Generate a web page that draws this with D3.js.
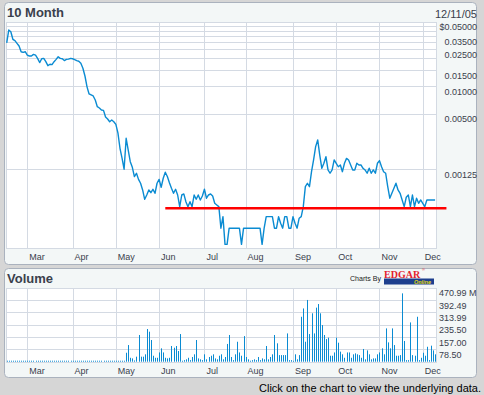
<!DOCTYPE html>
<html>
<head>
<meta charset="utf-8">
<script src="https://cdn.jsdelivr.net/npm/d3@7"></script>
<style>
  html, body { margin: 0; padding: 0; background: #d6d6d6; }
  svg { display: block; font-family: "Liberation Sans", Arial, sans-serif; }
</style>
</head>
<body>
<svg id="chart" width="484" height="395"></svg>
<script>
// trading-day index 0 = Feb 14 2005, last = Dec 9 2005
const monthLabels = ['Mar', 'Apr', 'May', 'Jun', 'Jul', 'Aug', 'Sep', 'Oct', 'Nov', 'Dec']
const monthStartDay = [10, 32, 53, 74, 96, 116, 139, 160, 181, 202]

const priceGrid = [0.05, 0.045, 0.04, 0.035, 0.03, 0.025, 0.02, 0.015, 0.01, 0.005, 0.00125]
const priceTicks = [0.05, 0.035, 0.025, 0.015, 0.01, 0.005, 0.00125]
const priceTickLabels = ['$0.05000', '0.03500', '0.02500', '0.01500', '0.01000', '0.00500', '0.00125']

const volumeTicks = [78.5, 157, 235.5, 313.99, 392.49, 470.99]
const volumeTickLabels = ['78.50', '157.00', '235.50', '313.99', '392.49', '470.99 M']

// closing price per trading day ($)
const prices = [
  0.0295, 0.0406, 0.0389, 0.0322, 0.0311, 0.0291, 0.0272, 0.0236, 0.0232, 0.0236,
  0.0217, 0.0212, 0.0212, 0.0221, 0.0217, 0.0200, 0.0180, 0.0198, 0.0200, 0.0184,
  0.01665, 0.01724, 0.0171, 0.0184, 0.0195, 0.0208, 0.0200, 0.0198, 0.0189, 0.0195,
  0.0196, 0.0200, 0.0198, 0.0194, 0.0189, 0.0186, 0.0177, 0.0156, 0.01286, 0.0098,
  0.00821, 0.0080, 0.0078, 0.00706, 0.00597, 0.00578, 0.0055, 0.00545, 0.00461, 0.00439,
  0.0041, 0.00428, 0.0041, 0.00383, 0.0031, 0.00211, 0.00165, 0.00125, 0.00271, 0.00202,
  0.00151, 0.00131, 0.00104, 0.00113, 0.00097, 0.00088, 0.000744, 0.000589, 0.000656, 0.000744,
  0.000695, 0.000757, 0.000685, 0.00088, 0.00097, 0.000796, 0.000997, 0.00116, 0.00104, 0.000893,
  0.000776, 0.000685, 0.000757, 0.000656, 0.00049, 0.000656, 0.000673, 0.000555, 0.00049, 0.000555,
  0.00049, 0.000656, 0.000589, 0.000656, 0.000579, 0.00064, 0.000757, 0.000605, 0.000656, 0.000673,
  0.00064, 0.000533, 0.000511, 0.00049, 0.000286, 0.000382, 0.000191, 0.000191, 0.000286, 0.000286,
  0.000286, 0.000286, 0.000286, 0.000286, 0.000191, 0.000286, 0.000286, 0.000286, 0.000286, 0.000286,
  0.000286, 0.000286, 0.000286, 0.000286, 0.000191, 0.000286, 0.000382, 0.000382, 0.000382, 0.000382,
  0.000286, 0.000286, 0.000382, 0.000324, 0.000286, 0.000382, 0.000382, 0.000286, 0.000286, 0.000382,
  0.000324, 0.000286, 0.000367, 0.000382, 0.00049, 0.000808, 0.00088, 0.000808, 0.001175, 0.001575,
  0.0022, 0.0026, 0.00178, 0.00128, 0.00145, 0.00171, 0.001227, 0.00113, 0.001227, 0.001575,
  0.00145, 0.00133, 0.00139, 0.001175, 0.00145, 0.00164, 0.001575, 0.00139, 0.001227, 0.001227,
  0.00145, 0.00139, 0.00139, 0.00128, 0.001227, 0.00113, 0.00128, 0.00113, 0.001227, 0.00113,
  0.00145, 0.00155, 0.00133, 0.001175, 0.00113, 0.000808, 0.000605, 0.000685, 0.000776, 0.00088,
  0.000744, 0.000685, 0.000579, 0.00049, 0.00062, 0.000656, 0.00049, 0.000656, 0.00049, 0.000605,
  0.000533, 0.000579, 0.000533, 0.00049, 0.000579, 0.000579, 0.000579, 0.000579, 0.000579
]

// volume per trading day (millions of shares)
const volumes = [
  5, 5, 5, 5, 5, 5, 5, 5, 5, 5,
  5, 5, 5, 5, 5, 5, 5, 5, 5, 5,
  5, 5, 5, 5, 5, 5, 5, 5, 5, 5,
  5, 5, 5, 5, 5, 5, 5, 5, 5, 5,
  5, 5, 5, 5, 5, 5, 5, 5, 5, 5,
  5, 5, 5, 5, 5, 5, 5, 5, 57, 106,
  25, 21, 8, 32, 170, 32, 32, 47, 208, 191,
  138, 38, 25, 25, 59, 85, 59, 25, 21, 25,
  100, 89, 100, 68, 176, 6, 10, 15, 25, 10,
  30, 47, 138, 21, 15, 10, 47, 15, 30, 38,
  47, 21, 15, 38, 47, 15, 30, 113, 170, 30,
  10, 47, 127, 59, 38, 163, 30, 15, 6, 10,
  15, 10, 30, 10, 21, 15, 100, 15, 30, 47,
  170, 117, 42, 42, 42, 42, 180, 10, 10, 6,
  47, 15, 42, 286, 339, 127, 393, 176, 308, 180,
  344, 367, 308, 233, 170, 144, 153, 38, 38, 59,
  153, 121, 64, 47, 25, 59, 59, 25, 47, 53,
  47, 42, 25, 81, 15, 72, 47, 15, 21, 21,
  47, 59, 85, 47, 212, 123, 85, 212, 106, 38,
  38, 42, 435, 132, 10, 10, 250, 42, 38, 286,
  10, 25, 57, 38, 95, 10, 102, 72, 47
]

// red horizontal line drawn across the chart
const levelLine = { fromDay: 77, toDay: 213.5, price: 0.00047 }

const blue = '#0a8bd2'
const gridColor = '#d4dae3'
const textColor = '#3a404c'

const plotLeft = 6.5
const plotRight = 436.5
const priceTop = 21.7
const priceBottom = 248.3
const volTop = 287.7
const volBottom = 361.7

const svg = d3.select('#chart')

// panels
svg.append('rect')
  .attr('x', 4.5).attr('y', 2.5).attr('width', 472).attr('height', 262)
  .attr('rx', 4).attr('fill', '#f3f7f7').attr('stroke', '#aab2be')
svg.append('rect')
  .attr('x', 4.5).attr('y', 268.5).attr('width', 472).attr('height', 109)
  .attr('rx', 4).attr('fill', '#f3f7f7').attr('stroke', '#aab2be')

const x = d3.scaleLinear().domain([0, prices.length - 1]).range([6.7, 435.1])
const yPrice = d3.scaleLog().domain([0.000173, 0.05]).range([priceBottom, priceTop])
const yVol = d3.scaleLinear().domain([0, 470.99]).range([volBottom, volTop])

function drawFrame (top, bottom, yScale, gridValues) {
  svg.append('rect')
    .attr('x', plotLeft).attr('y', Math.round(top) + 0.5)
    .attr('width', plotRight - plotLeft).attr('height', Math.round(bottom) - Math.round(top))
    .attr('fill', '#fff').attr('stroke', gridColor)

  const hGrid = svg.append('g')
    .attr('transform', `translate(${plotLeft},0)`)
    .call(d3.axisLeft(yScale).tickValues(gridValues).tickSize(-(plotRight - plotLeft)).tickFormat(''))
  hGrid.select('.domain').remove()
  hGrid.selectAll('line').attr('stroke', gridColor).attr('shape-rendering', 'crispEdges')

  const vGrid = svg.append('g')
    .attr('transform', `translate(0,${bottom})`)
    .call(d3.axisBottom(x).tickValues(monthStartDay).tickSize(-(bottom - top))
      .tickFormat((d, i) => monthLabels[i]))
  vGrid.select('.domain').remove()
  vGrid.selectAll('line').attr('stroke', gridColor).attr('shape-rendering', 'crispEdges')
  vGrid.selectAll('text')
    .attr('text-anchor', 'start').attr('x', 1.5).attr('y', 12.2).attr('dy', null)
    .attr('font-size', 9).attr('font-family', '"Liberation Sans", Arial, sans-serif')
    .attr('fill', textColor)
}

drawFrame(priceTop, priceBottom, yPrice, priceGrid)
drawFrame(volTop, volBottom, yVol, volumeTicks)

// price axis labels
const pAxis = svg.append('g')
  .attr('transform', 'translate(477,0)')
  .call(d3.axisLeft(yPrice).tickValues(priceTicks).tickSize(0).tickPadding(0)
    .tickFormat((d, i) => priceTickLabels[i]))
pAxis.select('.domain').remove()
pAxis.selectAll('text')
  .attr('dy', '8.2').attr('font-size', 9).attr('fill', textColor)
  .attr('font-family', '"Liberation Sans", Arial, sans-serif')

// volume axis labels
const vAxis = svg.append('g')
  .attr('transform', 'translate(439,0)')
  .call(d3.axisRight(yVol).tickValues(volumeTicks).tickSize(0).tickPadding(0)
    .tickFormat((d, i) => volumeTickLabels[i]))
vAxis.select('.domain').remove()
vAxis.selectAll('text')
  .attr('dy', '8').attr('font-size', 9).attr('fill', textColor)
  .attr('font-family', '"Liberation Sans", Arial, sans-serif')

// volume bars
svg.append('g')
  .selectAll('rect')
  .data(volumes)
  .join('rect')
  .attr('x', (d, i) => Math.round(x(i)))
  .attr('width', 1)
  .attr('y', d => Math.min(yVol(d), volBottom - 1))
  .attr('height', d => Math.max(1, volBottom - yVol(d)))
  .attr('fill', blue)

// price line
const line = d3.line()
  .x((d, i) => x(i))
  .y(d => yPrice(d))

svg.append('path')
  .datum(prices)
  .attr('d', line)
  .attr('fill', 'none')
  .attr('stroke', blue)
  .attr('stroke-width', 1.4)
  .attr('stroke-linejoin', 'round')

// red level line
svg.append('line')
  .attr('x1', x(levelLine.fromDay)).attr('x2', x(levelLine.toDay))
  .attr('y1', yPrice(levelLine.price)).attr('y2', yPrice(levelLine.price))
  .attr('stroke', '#ff0000').attr('stroke-width', 2.5)

// titles and texts
svg.append('text').attr('x', 7).attr('y', 17)
  .attr('font-size', 13).attr('font-weight', 'bold').attr('fill', textColor)
  .text('10 Month')
svg.append('text').attr('x', 477).attr('y', 18).attr('text-anchor', 'end')
  .attr('font-size', 11).attr('fill', textColor)
  .text('12/11/05')
svg.append('text').attr('x', 7).attr('y', 283)
  .attr('font-size', 13).attr('font-weight', 'bold').attr('fill', textColor)
  .text('Volume')
svg.append('text').attr('x', 350).attr('y', 280.5)
  .attr('font-size', 7.5).attr('fill', '#222')
  .attr('textLength', 31).attr('lengthAdjust', 'spacingAndGlyphs')
  .text('Charts By')

// EDGAR Online logo
svg.append('rect').attr('x', 384).attr('y', 278.5).attr('width', 50).attr('height', 6)
  .attr('fill', '#1d3f8e')
svg.append('text').attr('x', 384).attr('y', 278)
  .attr('font-family', '"Liberation Serif", "Times New Roman", serif')
  .attr('font-size', 10).attr('font-weight', 'bold').attr('fill', '#e3222c')
  .text('EDGAR')
svg.append('text').attr('x', 422).attr('y', 271)
  .attr('font-size', 4).attr('fill', '#e3222c').text('®')
svg.append('text').attr('x', 431).attr('y', 284)
  .attr('text-anchor', 'end').attr('font-size', 5.5).attr('font-weight', 'bold')
  .attr('font-style', 'italic').attr('fill', '#e2dc10')
  .text('Online')

svg.append('text').attr('x', 481).attr('y', 392).attr('text-anchor', 'end')
  .attr('font-size', 11).attr('fill', '#000')
  .text('Click on the chart to view the underlying data.')
</script>
</body>
</html>
